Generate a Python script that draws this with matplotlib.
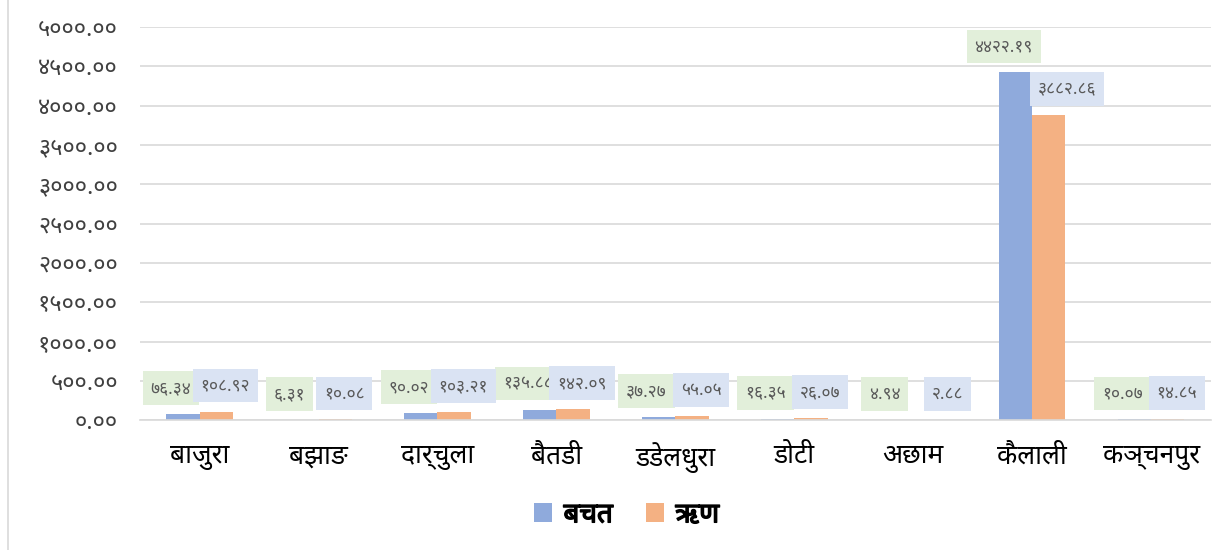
import matplotlib
matplotlib.use("Agg")
import numpy as np
import matplotlib.pyplot as plt
import matplotlib.patheffects as pe
from matplotlib import font_manager

districts = ["बाजुरा", "बझाङ", "दार्चुला", "बैतडी", "डडेलधुरा", "डोटी", "अछाम", "कैलाली", "कञ्चनपुर"]
bachat = [76.34, 6.31, 90.02, 135.88, 37.27, 16.35, 4.94, 4422.19, 10.07]
rin = [108.92, 10.08, 103.21, 142.09, 55.05, 26.07, 2.88, 3882.86, 14.85]
series_names = ["बचत", "ऋण"]
yticks = [0, 500, 1000, 1500, 2000, 2500, 3000, 3500, 4000, 4500, 5000]

DEV_DIGITS = str.maketrans("0123456789", "०१२३४५६७८९")


def to_dev(v):
    return f"{v:.2f}".translate(DEV_DIGITS)


# pick an installed font that has devanagari, if any
names = set(f.name for f in font_manager.fontManager.ttflist)
fams = [f for f in ["Noto Sans Devanagari", "Lohit Devanagari", "Mangal",
                    "Nirmala UI", "Kalimati", "FreeSans", "Noto Sans", "DejaVu Sans"] if f in names]
plt.rcParams["font.family"] = fams or ["DejaVu Sans"]

BLUE = "#8FAADC"
ORANGE = "#F4B183"

fig = plt.figure(figsize=(12.29, 5.5), dpi=100)
ax = fig.add_axes([0.114, 0.236, 0.871, 0.715])

x = np.arange(len(districts))
w = 0.28
b1 = ax.bar(x - w / 2, bachat, w, color=BLUE, label=series_names[0], zorder=2)
b2 = ax.bar(x + w / 2, rin, w, color=ORANGE, label=series_names[1], zorder=2)

for i, (xi, v) in enumerate(zip(x, bachat)):
    ax.annotate(to_dev(v), (xi - w / 2, v), xytext=(-12, 26), textcoords="offset pixels",
                ha="center", va="center", fontsize=12.5, color="#595959", zorder=3,
                bbox=dict(boxstyle="square,pad=0.45", fc="#E2EFDA", ec="none"))
for i, (xi, v) in enumerate(zip(x, rin)):
    dx = 18 if bachat[i] > rin[i] else 9
    ax.annotate(to_dev(v), (xi + w / 2, v), xytext=(dx, 26), textcoords="offset pixels",
                ha="center", va="center", fontsize=12.5, color="#595959", zorder=4,
                bbox=dict(boxstyle="square,pad=0.45", fc="#DAE3F3", ec="none"))

ax.set_xlim(-0.5, len(districts) - 0.5)
ax.set_ylim(0, 5000)
ax.set_yticks(yticks)
ax.set_yticklabels([to_dev(t) for t in yticks], fontsize=17, color="#404040")
ax.set_xticks(x)
ax.set_xticklabels(districts, fontsize=19, color="black")
ax.tick_params(axis="x", length=0, pad=16)
ax.tick_params(axis="y", length=0, pad=16)
ax.grid(axis="y", color="#D9D9D9", lw=1.2, zorder=0)
for s in ["top", "right", "left"]:
    ax.spines[s].set_visible(False)
ax.spines["bottom"].set_color("#D9D9D9")
ax.spines["bottom"].set_linewidth(1.2)

leg = fig.legend(handles=[b1, b2], loc="center", bbox_to_anchor=(0.51, 0.063), ncol=2,
                 frameon=False, prop=dict(size=20, weight="bold"), handlelength=0.65,
                 handleheight=0.65, columnspacing=1.2, handletextpad=0.4)
for t in leg.get_texts():
    t.set_path_effects([pe.withStroke(linewidth=1.0, foreground="black")])

fig.add_artist(plt.Line2D([0.0065, 0.0065], [0, 1], color="#D9D9D9", lw=1.2))

fig.savefig("out.png", dpi=100)
